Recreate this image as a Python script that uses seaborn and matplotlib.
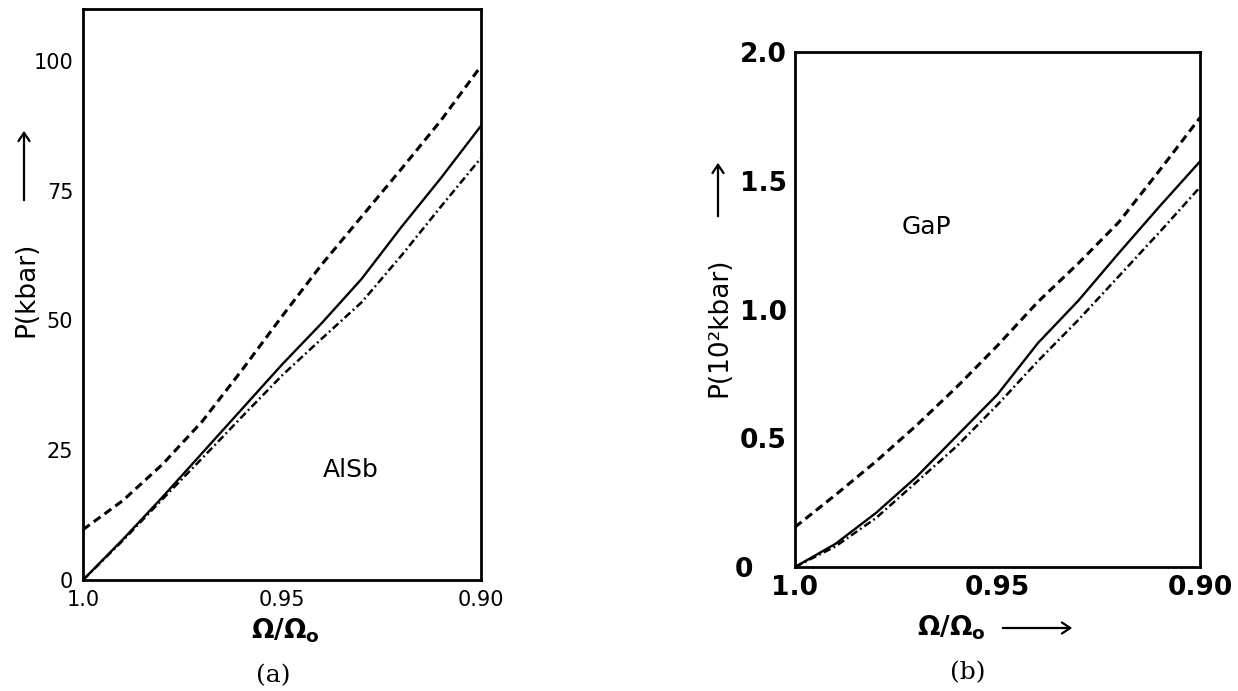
import numpy as np
import pandas as pd
import matplotlib
matplotlib.use("Agg")
import matplotlib.pyplot as plt
from matplotlib.transforms import ScaledTranslation
import seaborn as sns

# ---- data ----
volume_ratio = [1.00, 0.99, 0.98, 0.97, 0.96, 0.95, 0.94, 0.93, 0.92, 0.91, 0.90]

alsb_dashed = [9.7, 15.3, 22.3, 30.6, 40.5, 50.8, 60.8, 70.0, 79.2, 88.6, 99.0]
alsb_solid = [0.0, 7.8, 16.0, 24.5, 33.0, 41.5, 49.5, 58.0, 68.0, 77.5, 87.5]
alsb_dashdot = [0.0, 7.6, 15.6, 23.5, 31.5, 39.4, 46.5, 53.5, 62.5, 72.0, 81.3]

gap_dashed = [0.155, 0.28, 0.41, 0.55, 0.70, 0.86, 1.03, 1.18, 1.34, 1.54, 1.745]
gap_solid = [0.0, 0.09, 0.21, 0.35, 0.51, 0.67, 0.87, 1.035, 1.22, 1.40, 1.575]
gap_dashdot = [0.0, 0.08, 0.19, 0.33, 0.47, 0.63, 0.80, 0.96, 1.13, 1.30, 1.475]

alsb_yticks = [0, 25, 50, 75, 100]
alsb_yticklabels = ["0", "25", "50", "75", "100"]
gap_yticks = [0, 0.5, 1.0, 1.5, 2.0]
gap_yticklabels = ["0", "0.5", "1.0", "1.5", "2.0"]
xticks = [1.0, 0.95, 0.90]
xticklabels = ["1.0", "0.95", "0.90"]

sns.set_theme(style="white")
plt.rcParams["font.family"] = ["DejaVu Sans"]
plt.rcParams["lines.scale_dashes"] = False
for key in ["text.color", "axes.labelcolor", "xtick.color", "ytick.color", "axes.edgecolor"]:
    plt.rcParams[key] = "black"

W, H = 1238, 691
fig = plt.figure(figsize=(W / 100, H / 100), dpi=100)
fig.patch.set_facecolor("white")


def fx(px):
    return px / W


def fy(py):
    return 1 - py / H


axa = fig.add_axes([fx(83), fy(580), (481 - 83) / W, (580 - 9) / H])
axb = fig.add_axes([fx(795), fy(567), (1200 - 795) / W, (567 - 52) / H])

dash_style = (0, (6, 3.6))
dashdot_style = (0, (5.5, 2.4, 1.3, 2.4))

for ax, dashed, solid, dashdot in [
    (axa, alsb_dashed, alsb_solid, alsb_dashdot),
    (axb, gap_dashed, gap_solid, gap_dashdot),
]:
    sns.lineplot(x=volume_ratio, y=dashed, ax=ax, color="black", lw=2.2,
                 linestyle=dash_style, estimator=None, errorbar=None, sort=False)
    sns.lineplot(x=volume_ratio, y=solid, ax=ax, color="black", lw=1.7,
                 linestyle="-", estimator=None, errorbar=None, sort=False)
    sns.lineplot(x=volume_ratio, y=dashdot, ax=ax, color="black", lw=1.8,
                 linestyle=dashdot_style, estimator=None, errorbar=None, sort=False)
    ax.set_xlim(1.0, 0.90)
    ax.set_xticks(xticks)
    ax.set_xticklabels(xticklabels)
    for sp in ax.spines.values():
        sp.set_visible(True)
        sp.set_color("black")
        sp.set_linewidth(2.0)
    ax.tick_params(direction="in", length=5, width=1.5, color="black", labelcolor="black")
    ax.set_xlabel("")
    ax.set_ylabel("")
    ax.grid(False)

# panel (a)
axa.set_ylim(0, 110)
axa.set_yticks(alsb_yticks)
axa.set_yticklabels(alsb_yticklabels)
axa.tick_params(labelsize=15, pad=7)
axa.text(0.9327, 21.2, "AlSb", fontsize=18, ha="center", va="center", color="black")

# panel (b)
axb.set_ylim(0, 2.0)
axb.set_yticks(gap_yticks)
axb.set_yticklabels(gap_yticklabels)
axb.tick_params(labelsize=19, pad=6)
for lbl in axb.get_xticklabels() + axb.get_yticklabels():
    lbl.set_fontweight("bold")
zero_lbl = axb.get_yticklabels()[0]
zero_lbl.set_transform(zero_lbl.get_transform() + ScaledTranslation(-0.34, 0, fig.dpi_scale_trans))
axb.text(0.9675, 1.32, "GaP", fontsize=18, ha="center", va="center", color="black")

arrow_kw = dict(arrowstyle="->,head_length=6,head_width=4", lw=1.6, color="black")

# axis labels and arrows (a)
fig.text(fx(26), fy(289), "P(kbar)", rotation=90, fontsize=19, ha="center", va="center")
fig.add_artist(matplotlib.patches.FancyArrowPatch(
    (fx(24), fy(203)), (fx(24), fy(128)), transform=fig.transFigure, **arrow_kw))
fig.text(fx(285), fy(631), r"$\mathbf{\Omega/\Omega_o}$", fontsize=19, ha="center", va="center")
fig.text(fx(273), fy(676), "(a)", fontsize=18, ha="center", va="center", family="DejaVu Serif")

# axis labels and arrows (b)
fig.text(fx(719), fy(327), "P(10²kbar)", rotation=90, fontsize=19, ha="center", va="center")
fig.add_artist(matplotlib.patches.FancyArrowPatch(
    (fx(718), fy(219)), (fx(718), fy(160)), transform=fig.transFigure, **arrow_kw))
fig.text(fx(951), fy(628), r"$\mathbf{\Omega/\Omega_o}$", fontsize=19, ha="center", va="center")
fig.add_artist(matplotlib.patches.FancyArrowPatch(
    (fx(1000), fy(628)), (fx(1075), fy(628)), transform=fig.transFigure, **arrow_kw))
fig.text(fx(968), fy(673), "(b)", fontsize=18, ha="center", va="center", family="DejaVu Serif")

fig.savefig("out.png", dpi=100, facecolor="white")
